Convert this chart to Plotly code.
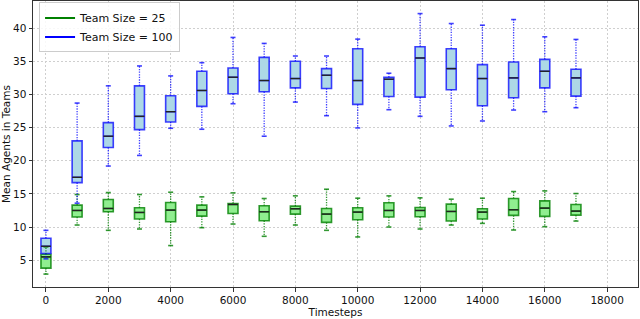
import plotly.graph_objects as go

timesteps = [0, 1000, 2000, 3000, 4000, 5000, 6000, 7000, 8000, 9000,
             10000, 11000, 12000, 13000, 14000, 15000, 16000, 17000]

x_ticks = [0, 2000, 4000, 6000, 8000, 10000, 12000, 14000, 16000, 18000]
x_tick_labels = ["0", "2000", "4000", "6000", "8000", "10000", "12000", "14000", "16000", "18000"]
y_ticks = [5, 10, 15, 20, 25, 30, 35, 40]
y_tick_labels = ["5", "10", "15", "20", "25", "30", "35", "40"]

# Team Size = 25 (green)
g_low = [2.9, 10.3, 9.5, 9.7, 7.2, 9.9, 10.45, 8.6, 10.3, 9.5, 8.5, 10.0, 9.7, 10.3, 10.55, 9.55, 10.05, 10.9]
g_q1 = [3.8, 11.5, 12.3, 11.2, 10.8, 11.65, 12.05, 10.95, 11.95, 10.7, 11.1, 11.5, 11.55, 10.9, 11.2, 11.75, 11.6, 11.8]
g_med = [5.5, 12.5, 12.8, 12.2, 12.55, 12.55, 13.4, 12.3, 12.75, 11.95, 12.25, 12.5, 12.5, 12.35, 12.25, 12.6, 12.85, 12.4]
g_q3 = [5.9, 13.3, 14.15, 12.9, 13.7, 13.3, 13.55, 13.2, 13.15, 12.8, 12.9, 13.65, 12.95, 13.45, 12.75, 14.3, 13.95, 13.4]
g_high = [7.0, 14.9, 15.2, 14.9, 15.25, 14.55, 15.15, 14.3, 14.7, 15.7, 14.35, 14.7, 14.4, 14.2, 14.35, 15.35, 15.45, 15.05]

# Team Size = 100 (blue)
b_low = [5.2, 13.6, 19.2, 20.8, 24.9, 24.75, 28.6, 23.7, 28.85, 26.8, 24.95, 27.7, 26.7, 25.25, 26.0, 27.65, 27.4, 28.0]
b_q1 = [6.0, 16.7, 22.0, 24.7, 25.85, 28.2, 30.1, 30.4, 31.0, 30.9, 28.5, 29.7, 29.6, 30.7, 28.3, 29.5, 31.0, 29.75]
b_med = [7.1, 17.5, 23.7, 26.7, 27.4, 30.6, 32.6, 32.1, 32.4, 32.9, 32.1, 32.3, 35.5, 33.9, 32.4, 32.5, 33.5, 32.5]
b_q3 = [8.3, 23.0, 25.75, 31.3, 29.8, 33.5, 34.0, 35.6, 35.0, 33.9, 36.9, 32.6, 37.2, 36.9, 34.5, 34.9, 35.3, 33.8]
b_high = [9.5, 28.7, 31.3, 34.3, 32.8, 34.8, 38.6, 37.7, 35.8, 35.8, 38.35, 33.2, 42.2, 40.7, 40.45, 41.3, 38.7, 38.3]

series = [
    ("Team Size = 25", g_low, g_q1, g_med, g_q3, g_high, "#90ee90", "rgba(0,128,0,0.8)", "green"),
    ("Team Size = 100", b_low, b_q1, b_med, b_q3, b_high, "#add8e6", "rgba(0,0,255,0.75)", "blue"),
]

BOX_W = 320
CAP_W = 160

fig = go.Figure()

for name, low, q1, med, q3, high, fill, edge, legcol in series:
    wx, wy = [], []
    cx, cy = [], []
    mx, my = [], []
    for t, lo, a, m, b, hi in zip(timesteps, low, q1, med, q3, high):
        wx += [t, t, None, t, t, None]
        wy += [a, lo, None, b, hi, None]
        cx += [t - CAP_W / 2, t + CAP_W / 2, None, t - CAP_W / 2, t + CAP_W / 2, None]
        cy += [lo, lo, None, hi, hi, None]
        mx += [t - BOX_W / 2, t + BOX_W / 2, None]
        my += [m, m, None]
    fig.add_trace(go.Scatter(x=wx, y=wy, mode="lines", line=dict(color=edge, width=1.3, dash="1.3px,1.3px"),
                             showlegend=False, hoverinfo="skip"))
    fig.add_trace(go.Scatter(x=cx, y=cy, mode="lines", line=dict(color=edge, width=1.6),
                             showlegend=False, hoverinfo="skip"))
    fig.add_trace(go.Box(x=timesteps, q1=q1, median=med, q3=q3, lowerfence=q1, upperfence=q3,
                         width=BOX_W, fillcolor=fill, line=dict(color=edge, width=1.6),
                         whiskerwidth=0, showlegend=False, name=name, boxpoints=False))
    fig.add_trace(go.Scatter(x=mx, y=my, mode="lines", line=dict(color="#222222", width=1.4),
                             showlegend=False, hoverinfo="skip"))
    fig.add_trace(go.Scatter(x=[None], y=[None], mode="lines", line=dict(color=legcol, width=2),
                             name=name, showlegend=True))

axis_common = dict(
    showline=True, linecolor="#333333", linewidth=1, mirror=True,
    showgrid=True, gridcolor="#cfcfcf", griddash="2px,2px", gridwidth=1,
    ticks="outside", ticklen=3.5, tickcolor="#333333", zeroline=False,
    automargin=False,
    tickfont=dict(family="DejaVu Sans", size=10.5, color="#111111"),
)

fig.update_layout(
    width=640, height=319,
    margin=dict(l=33, r=2, t=1, b=32),
    paper_bgcolor="white", plot_bgcolor="white",
    font=dict(family="DejaVu Sans", size=10.5, color="#111111"),
    boxmode="overlay",
    xaxis=dict(range=[-415, 18990], tickmode="array", tickvals=x_ticks, ticktext=x_tick_labels,
               title=dict(text="Timesteps", standoff=1, font=dict(size=10.5)), **axis_common),
    yaxis=dict(range=[0.95, 44.1], tickmode="array", tickvals=y_ticks, ticktext=y_tick_labels,
               title=dict(text="Mean Agents in Teams", standoff=3, font=dict(size=10.5)), **axis_common),
    legend=dict(x=0.01, y=0.995, xanchor="left", yanchor="top", bgcolor="rgba(255,255,255,0.85)",
                bordercolor="#cccccc", borderwidth=1, font=dict(size=11),
                itemwidth=30, tracegroupgap=0),
)

fig.write_html("out.html", config={"displayModeBar": False},
               post_script="document.body.style.margin='0';document.body.style.padding='0';document.body.style.overflow='hidden';")
